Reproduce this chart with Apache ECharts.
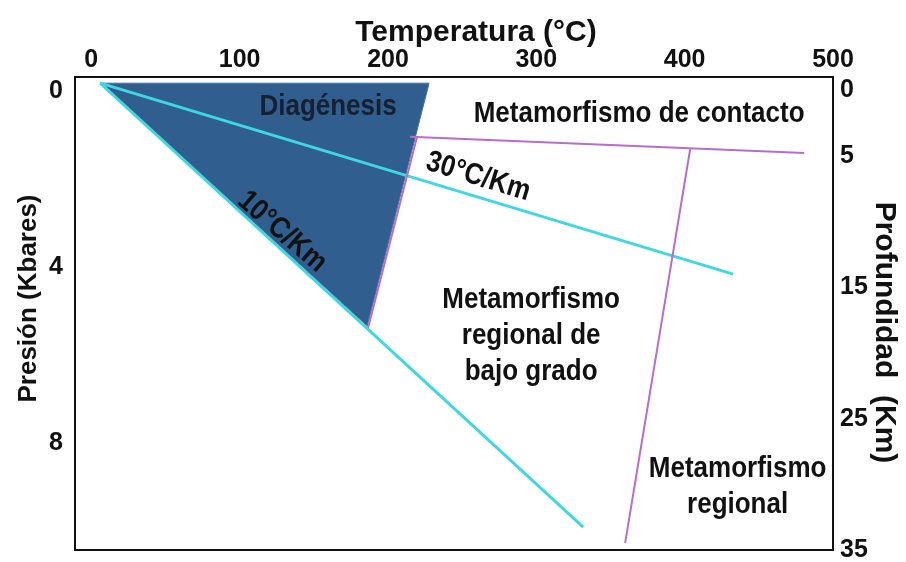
<!DOCTYPE html>
<html>
<head>
<meta charset="utf-8">
<script src="https://cdn.jsdelivr.net/npm/echarts@6/dist/echarts.min.js"></script>
<style>html,body{margin:0;padding:0;background:#fff;}#c{width:906px;height:562px;}</style>
</head>
<body>
<div id="c"></div>
<script>
// Tick labels
const tempTicks = [0, 100, 200, 300, 400, 500];
const pressureTicks = [0, 4, 8];
const depthTicks = [0, 5, 15, 25, 35];

// Regions and lines as [temperature °C, pressure kbar]
const diagenesis = [[6, -0.19], [227.7, -0.19], [186, 5.33]];
const grad10 = [[6, -0.19], [331.6, 9.9]];
const grad30 = [[6, -0.19], [432.7, 4.15]];
const boundaryLowGrade = [[186.6, 5.37], [219.6, 1.03]];
const boundaryContact = [[214.9, 1.03], [480.6, 1.40]];
const boundaryRegional = [[403.7, 1.31], [359.9, 10.26]];

// Annotation texts and their anchors [temperature, pressure, rotation deg]
const labelTexts = ['Diagénesis', 'Metamorfismo de contacto', '30°C/Km', '10°C/Km',
  'Metamorfismo\nregional de\nbajo grado', 'Metamorfismo\nregional'];
const labelAnchors = [[159.6, 0.35, 0], [369.3, 0.51, 0], [260.8, 1.94, 17], [128.6, 3.19, 41],
  [296.5, 5.55, 0], [435.7, 8.98, 0]];
const labelColors = ['#172030', '#111', '#111', '#111', '#111', '#111'];

const FONT = "'Liberation Sans', Arial, sans-serif";
const chart = echarts.init(document.getElementById('c'), null, {renderer: 'canvas'});

function lineSeries(data, color, width) {
  return {type: 'line', data: data, xAxisIndex: 0, yAxisIndex: 0, symbol: 'none',
    lineStyle: {color: color, width: width}, silent: true, z: 3, animation: false};
}

chart.setOption({
  animation: false,
  backgroundColor: '#fff',
  grid: {left: 75, right: 73, top: 77, bottom: 12, containLabel: false, outerBoundsMode: 'none',
    show: true, borderColor: '#111', borderWidth: 2, backgroundColor: 'transparent'},
  xAxis: {
    type: 'value', position: 'top', min: -11, max: 500,
    name: 'Temperatura (°C)', nameLocation: 'middle', nameGap: 29, nameMoveOverlap: false,
    nameTextStyle: {fontFamily: FONT, fontWeight: 'bold', fontSize: 30, color: '#111', padding: [0, 0, 0, 44]},
    axisLine: {show: false}, axisTick: {show: false}, splitLine: {show: false},
    axisLabel: {customValues: tempTicks, fontFamily: FONT, fontWeight: 'bold', fontSize: 25, color: '#111', margin: 4}
  },
  yAxis: [{
    type: 'value', inverse: true, min: -0.33, max: 10.42, position: 'left',
    name: 'Presión (Kbares)', nameLocation: 'middle', nameGap: 33, nameMoveOverlap: false,
    nameTextStyle: {fontFamily: FONT, fontWeight: 'bold', fontSize: 26, color: '#111', padding: [0, 0, 0, 30]},
    axisLine: {show: false}, axisTick: {show: false}, splitLine: {show: false},
    axisLabel: {customValues: pressureTicks, fontFamily: FONT, fontWeight: 'bold', fontSize: 25, color: '#111', margin: 12}
  }, {
    type: 'value', inverse: true, min: -1.0, max: 35, position: 'right',
    name: 'Profundidad  (Km)', nameLocation: 'middle', nameGap: 36, nameRotate: -90, nameMoveOverlap: false,
    nameTextStyle: {fontFamily: FONT, fontWeight: 'bold', fontSize: 30, color: '#111', padding: [0, 0, 0, 38]},
    axisLine: {show: false}, axisTick: {show: false}, splitLine: {show: false},
    axisLabel: {customValues: depthTicks, fontFamily: FONT, fontWeight: 'bold', fontSize: 25, color: '#111', margin: 7}
  }],
  series: [
    {
      type: 'custom', xAxisIndex: 0, yAxisIndex: 0, data: diagenesis, z: 1, silent: true,
      renderItem: function (params, api) {
        if (params.dataIndex !== 0) return null;
        const pts = diagenesis.map(function (d) { return api.coord(d); });
        return {type: 'polygon', shape: {points: pts}, style: {fill: '#2f5e8f', stroke: '#3f78a8', lineWidth: 1}};
      }
    },
    lineSeries(grad10, '#3fd8e2', 3),
    lineSeries(grad30, '#3fd8e2', 3),
    lineSeries(boundaryLowGrade, '#b86ccb', 2),
    lineSeries(boundaryContact, '#b86ccb', 2),
    lineSeries(boundaryRegional, '#b86ccb', 2),
    {
      type: 'custom', xAxisIndex: 0, yAxisIndex: 0, data: labelAnchors, z: 5, silent: true, clip: false,
      renderItem: function (params, api) {
        const p = api.coord([api.value(0), api.value(1)]);
        return {
          type: 'text', x: p[0], y: p[1], rotation: -api.value(2) * Math.PI / 180,
          scaleX: 1.0, scaleY: 1.15,
          style: {text: labelTexts[params.dataIndex], fill: labelColors[params.dataIndex],
            font: "bold 26px " + FONT, align: 'center', verticalAlign: 'middle', lineHeight: 31}
        };
      }
    }
  ]
});
</script>
</body>
</html>
